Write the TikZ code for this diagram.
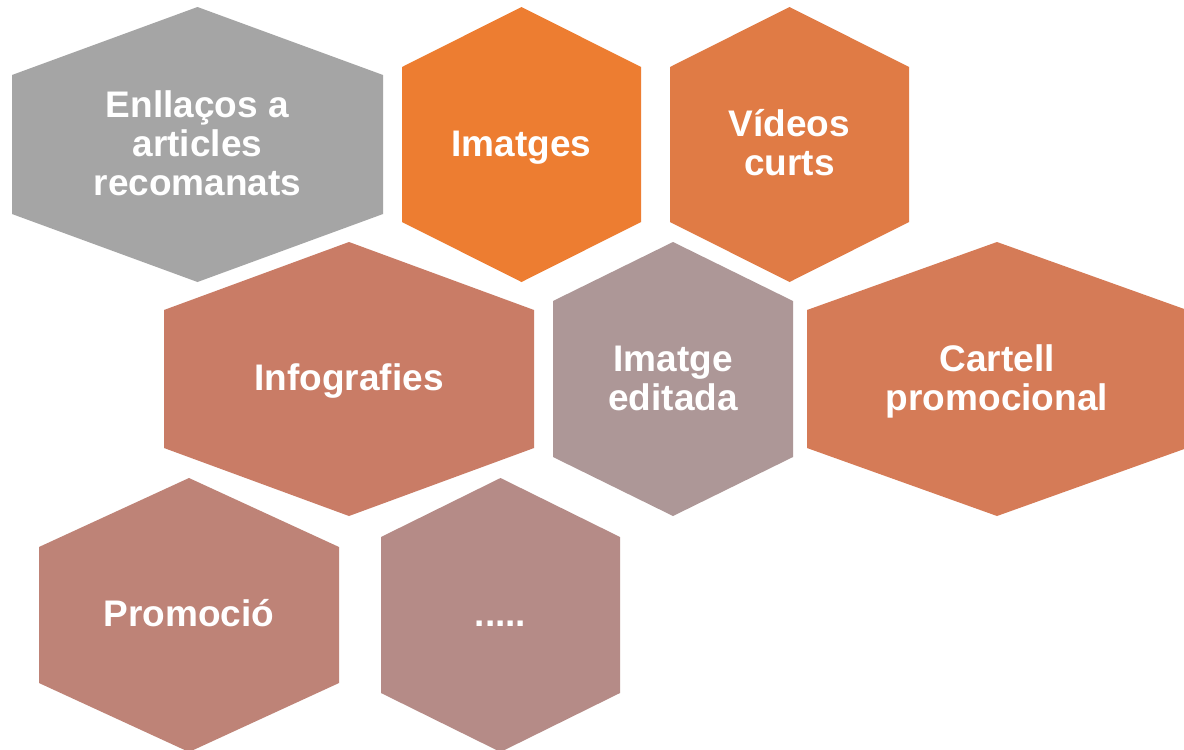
\documentclass[tikz,border=0pt]{standalone}
\usepackage{fontspec}
\setmainfont{Liberation Sans}
\definecolor{cgray}{HTML}{A5A5A5}
\definecolor{cimg}{HTML}{ED7D31}
\definecolor{cvid}{HTML}{E07B45}
\definecolor{cinf}{HTML}{C97C66}
\definecolor{cedi}{HTML}{AD9797}
\definecolor{ccar}{HTML}{D57B57}
\definecolor{cpro}{HTML}{BE8377}
\definecolor{cdot}{HTML}{B58B87}
\newcommand\hexfill[6]{%
  \pgfmathsetmacro\hcx{(#1+#2)/2}%
  \fill[#6] (\hcx,#3) -- (#2,#3+#5) -- (#2,#4-#5) -- (\hcx,#4) -- (#1,#4-#5) -- (#1,#3+#5) -- cycle;}
\begin{document}
\begin{tikzpicture}[x=1pt,y=-1pt]
\tikzset{lbl/.style={text=white, font=\fontsize{37}{39}\selectfont\bfseries, align=center, inner sep=0pt}}
\useasboundingbox (0,0) rectangle (1184,750);
\clip (0,0) rectangle (1184,750);
\fill[white] (0,0) rectangle (1184,750);
\hexfill{12}{383}{7}{282}{68}{cgray}
\hexfill{402}{641}{7}{282}{60}{cimg}
\hexfill{670}{909}{7}{282}{60}{cvid}
\hexfill{164}{534}{242}{516}{68}{cinf}
\hexfill{553}{793}{242}{516}{59}{cedi}
\hexfill{807}{1187}{242}{516}{68}{ccar}
\hexfill{39}{339}{478}{752}{69}{cpro}
\hexfill{381}{620}{478}{752}{59}{cdot}
\node[lbl] (enl) at (197.5,156) {\smash{Enllaços a}\\\smash{articles}\\\smash{recomanats}};
\node[lbl] (img) at (521.5,156) {\smash{Imatges}};
\node[lbl] (vid) at (789.5,156) {\smash{Vídeos}\\\smash{curts}};
\node[lbl] (inf) at (349,390.5) {\smash{Infografies}};
\node[lbl] (edi) at (673,390.5) {\smash{Imatge}\\\smash{editada}};
\node[lbl] (car) at (997,390.5) {\smash{Cartell}\\\smash{promocional}};
\node[lbl] (pro) at (189,626.5) {\smash{Promoció}};
\node[lbl] (dot) at (500.5,626.5) {\smash{.....}};
\end{tikzpicture}
\end{document}
